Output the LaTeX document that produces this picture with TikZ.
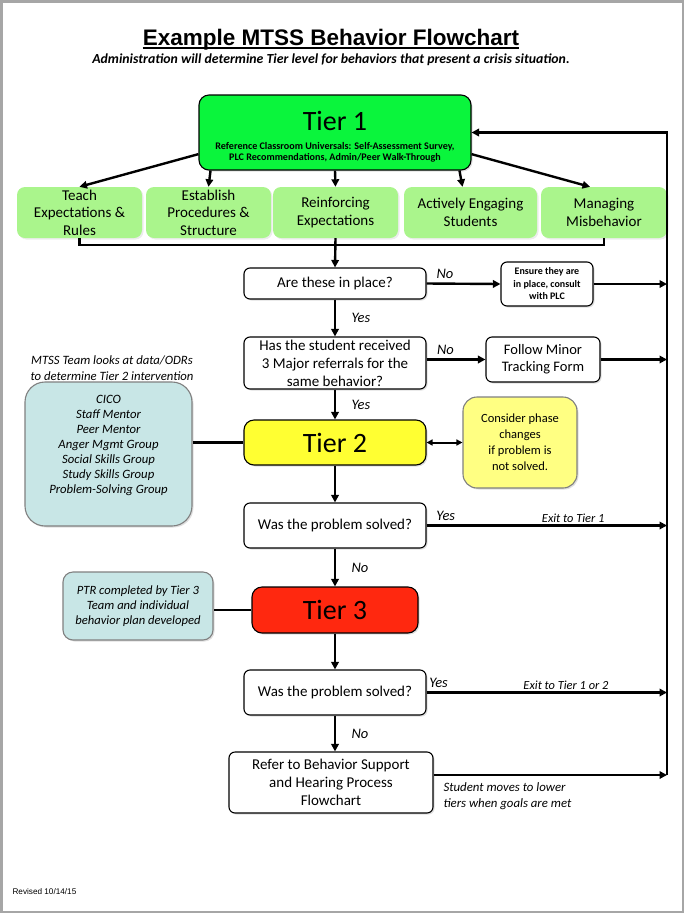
\documentclass[tikz,border=0pt]{standalone}
\usepackage{fontspec}
\setmainfont{Carlito}
\newfontfamily\arialfont{Liberation Sans}
\usetikzlibrary{arrows.meta,shadows}
\definecolor{tieronegreen}{RGB}{10,245,60}
\definecolor{practicegreen}{RGB}{170,245,140}
\definecolor{tiertwoyellow}{RGB}{255,255,50}
\definecolor{considerfill}{RGB}{255,255,130}
\definecolor{tierthreered}{RGB}{255,40,15}
\definecolor{optionblue}{RGB}{200,230,230}
\newcommand{\tierbig}{\normalfont\fontsize{28}{30}\selectfont}
\newcommand{\tiernote}{\bfseries\fontsize{10.1}{11}\selectfont}

\begin{document}
\begin{tikzpicture}[x=1pt,y=-1pt,
    arr/.style={line width=2.4pt,-{Triangle[length=7.5pt,width=7.5pt]}},
    twoway/.style={line width=2pt,{Triangle[length=6pt,width=6pt]}-{Triangle[length=6pt,width=6pt]}},
    link/.style={line width=2.4pt},
    box/.style={draw,rounded corners=6pt,line width=1.1pt,align=center,inner sep=2pt,
      drop shadow={opacity=.25,shadow xshift=1.5pt,shadow yshift=-1.5pt}},
    ask/.style={box,fill=white,minimum width=182pt,font=\fontsize{15}{18}\selectfont},
    tierbox/.style={box,rounded corners=10pt,font=\tierbig},
    practice/.style={fill=practicegreen,rounded corners=8pt,minimum height=51pt,align=center,inner sep=2pt,
      font=\fontsize{15}{17.5}\selectfont,drop shadow={opacity=.15,shadow xshift=1.5pt,shadow yshift=-1.5pt}},
    optbox/.style={box,draw=gray,fill=optionblue,rounded corners=20pt,font=\itshape\fontsize{12.7}{15}\selectfont},
    note/.style={font=\itshape\fontsize{14.5}{16}\selectfont},
    exitnote/.style={font=\itshape\fontsize{12.4}{14}\selectfont,inner sep=1.5pt}]
  \useasboundingbox (0,0) rectangle (686,914);
  \draw[gray!70,line width=2.5pt] (1.5,1.5) rectangle (683,912);

  \node[font=\arialfont\bfseries\fontsize{22.5}{26}\selectfont,inner xsep=0pt,anchor=base] (title) at (331,45) {Example MTSS Behavior Flowchart};
  \draw[line width=1.6pt] ([yshift=-3pt]title.base west) -- ([yshift=-3pt]title.base east);
  \node[font=\bfseries\itshape\fontsize{13.8}{15}\selectfont,anchor=base] (subtitle) at (331,63.5) {Administration will determine Tier level for behaviors that present a crisis situation.};

  % tier 1 and the five practices
  \node[tierbox,fill=tieronegreen,minimum width=272pt,minimum height=75pt,font=\tiernote] (tier1) at (335,132.5)
    {{\tierbig\rule{0pt}{28pt}Tier 1}\\[8pt]\tiernote Reference Classroom Universals: Self-Assessment Survey,\\\tiernote PLC Recommendations, Admin/Peer Walk-Through};
  \node[practice,minimum width=125pt] (teach) at (79.5,212.5) {Teach\\Expectations \&\\Rules};
  \node[practice,minimum width=125pt] (establish) at (208.5,212.5) {Establish\\Procedures \&\\Structure};
  \node[practice,minimum width=125pt] (reinforce) at (335.5,212.5) {Reinforcing\\Expectations};
  \node[practice,minimum width=133pt] (engage) at (470.5,212.5) {Actively Engaging\\Students};
  \node[practice,minimum width=126pt] (manage) at (604,212.5) {Managing\\Misbehavior};
  \draw[arr] (tier1.189) -- (teach.north);
  \draw[arr] (tier1.197) -- (establish.north);
  \draw[arr] (tier1.south) -- (reinforce.north);
  \draw[arr] (tier1.343) -- ([xshift=-8pt]engage.north);
  \draw[arr] (tier1.351) -- ([xshift=-14pt]manage.north);
  \draw[link] (teach.south) -- ++(0,7) -| (manage.south);

  \coordinate (rail) at (667,775);

  % checks before tier 2
  \node[ask,minimum height=31pt] (inplace) at (335,283.5) {Are these in place?};
  \node[box,fill=white,minimum width=92pt,minimum height=44pt,font=\bfseries\fontsize{10}{12.5}\selectfont] (ensure) at (547,284) {Ensure they are\\in place, consult\\with PLC};
  \node[ask,minimum height=52pt] (referral) at (335,363) {Has the student received\\3 Major referrals for the\\same behavior?};
  \node[box,fill=white,minimum width=114pt,minimum height=45pt,font=\fontsize{14.5}{17}\selectfont] (follow) at (543,359.5) {Follow Minor\\Tracking Form};
  \draw[arr] (reinforce.south) -- (inplace.north);
  \draw[arr] (inplace.east) -- node[note,above,pos=.25] {No} (ensure.west);
  \draw[arr] (ensure.east) -- (ensure.east -| rail);
  \draw[arr] (inplace.south) -- node[note,right=12pt] {Yes} (referral.north);
  \draw[arr] (referral.east |- follow) -- node[note,above,pos=.32] {No} (follow.west);
  \draw[arr] (follow.east) -- (follow.east -| rail);

  % tier 2
  \node[font=\itshape\fontsize{12.7}{16}\selectfont,align=center] (mtss) at (112,368) {MTSS Team looks at data/ODRs\\to determine Tier 2 intervention};
  \node[optbox,minimum width=167pt,minimum height=144pt] (options) at (108.5,454)
    {CICO\\Staff Mentor\\Peer Mentor\\Anger Mgmt Group\\Social Skills Group\\Study Skills Group\\Problem-Solving Group\\\strut};
  \node[tierbox,fill=tiertwoyellow,minimum width=182pt,minimum height=45pt] (tier2) at (335,442.5) {Tier 2};
  \node[box,draw=gray,fill=considerfill,rounded corners=14pt,minimum width=114pt,minimum height=91pt,font=\fontsize{12.5}{16}\selectfont] (consider) at (520,442.5) {Consider phase\\changes\\if problem is\\not solved.};
  \node[ask,minimum height=45pt] (solved2) at (335,525.5) {Was the problem solved?};
  \draw[arr] (referral.south) -- node[note,right=12pt] {Yes} (tier2.north);
  \draw[link] (options.east |- tier2) -- (tier2.west);
  \draw[twoway] (tier2.east) -- (consider.west);
  \draw[arr] (tier2.south) -- (solved2.north);
  \draw[arr] (solved2.east) -- node[note,above,pos=.08] {Yes} node[exitnote,above,pos=.61] {Exit to Tier 1} (solved2.east -| rail);

  % tier 3
  \node[tierbox,fill=tierthreered,minimum width=166pt,minimum height=46pt] (tier3) at (335,610) {Tier 3};
  \node[optbox,rounded corners=10pt,minimum width=150pt,minimum height=68pt,font=\itshape\fontsize{12.6}{15}\selectfont] (ptr) at (138,606) {PTR completed by Tier 3\\Team and individual\\behavior plan developed};
  \node[ask,minimum height=45pt] (solved3) at (335,692.5) {Was the problem solved?};
  \node[ask,minimum width=204pt,minimum height=61pt] (refer) at (331,782.5) {Refer to Behavior Support\\and Hearing Process\\Flowchart};
  \draw[arr] (solved2.south) -- node[note,right=12pt] {No} (tier3.north);
  \draw[link] (tier3.west) -- (tier3.west -| ptr.east);
  \draw[arr] (tier3.south) -- (solved3.north);
  \draw[arr] (solved3.east) -- node[note,above,pos=.05] {Yes} node[exitnote,above,pos=.58] {Exit to Tier 1 or 2} (solved3.east -| rail);
  \draw[arr] (solved3.south) -- node[note,right=12pt] {No} (solved3.south |- refer.north);
  \draw[arr] (refer.east |- rail) -- (rail);
  \draw[arr] (rail) |- (tier1.east);
  \node[font=\itshape\fontsize{12.8}{16}\selectfont,align=left,anchor=north west] (moves) at (440,779) {Student moves to lower\\tiers when goals are met};

  \node[font=\arialfont\fontsize{8.2}{10}\selectfont,anchor=west] (revised) at (9,892) {Revised 10/14/15};
\end{tikzpicture}
\end{document}
